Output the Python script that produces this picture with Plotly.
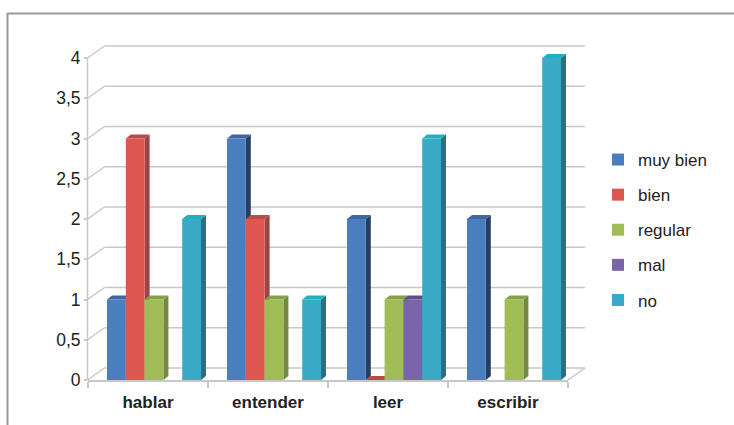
import plotly.graph_objects as go

# ---------------- data ----------------
categories = ["hablar", "entender", "leer", "escribir"]
series_names = ["muy bien", "bien", "regular", "mal", "no"]
muy_bien = [1, 3, 2, 2]
bien = [3, 2, 0, None]
regular = [1, 1, 1, 1]
mal = [None, None, 1, None]
no = [2, 1, 3, 4]
y_tickvals = [0, 0.5, 1, 1.5, 2, 2.5, 3, 3.5, 4]
y_ticktext = ["0", "0,5", "1", "1,5", "2", "2,5", "3", "3,5", "4"]

series_values = [muy_bien, bien, regular, mal, no]
front_colors = ["#4A7EBF", "#DD5650", "#A0BC57", "#7B65AA", "#3BAAC6"]
side_colors = ["#263F60", "#9B4545", "#748843", "#503F70", "#2F6F7D"]
top_colors = ["#3D66A3", "#B94B47", "#869F49", "#5F4E87", "#1FB1BD"]

# ---------------- geometry ----------------
W, H = 734, 425
ML, MR, MT, MB = 88, 166, 38, 45
PW = W - ML - MR
PH = H - MT - MB
PXU = 80.5                      # pixels per value unit
YMAX = PH / PXU
CATPX = PW / len(categories)    # pixels per category
WALL_DX, WALL_DY = 17, 12       # depth of the 3D floor / wall, pixels
BAR_DX, BAR_DY = 5, 4           # depth of each bar, pixels
bw = 18.8 / CATPX               # bar width in category units
shift = 6 / CATPX
n = len(series_names)
offsets = [-n / 2 * bw + j * bw + shift for j in range(n)]
dx = BAR_DX / CATPX
dy = BAR_DY / PXU


def px2paper_x(px):
    return (px - ML) / PW


def val2py(v):
    return MT + PH - v * PXU


def py2paper_y(py):
    return (MT + PH - py) / PH


fig = go.Figure()

for j, name in enumerate(series_names):
    fig.add_trace(go.Bar(
        x=categories, y=series_values[j], name=name,
        offset=offsets[j], width=bw,
        marker=dict(color=front_colors[j], line=dict(width=0)),
        legendgroup=name, hoverinfo="x+y+name",
    ))

shapes = []
grid_color = "#C8C8C8"
x_front = ML - 0.5
x_back = x_front + WALL_DX
x_right = ML + PW
# back wall gridlines + diagonal connectors on the left wall
for v in y_tickvals:
    yf = val2py(v)
    yb = yf - WALL_DY
    shapes.append(dict(type="line", xref="paper", yref="paper", layer="below",
                       x0=px2paper_x(x_front), y0=py2paper_y(yf),
                       x1=px2paper_x(x_back), y1=py2paper_y(yb),
                       line=dict(color=grid_color, width=1.5)))
    shapes.append(dict(type="line", xref="paper", yref="paper", layer="below",
                       x0=px2paper_x(x_back), y0=py2paper_y(yb),
                       x1=px2paper_x(x_right + WALL_DX), y1=py2paper_y(yb),
                       line=dict(color=grid_color, width=1.5)))
# front vertical axis line
shapes.append(dict(type="line", xref="paper", yref="paper", layer="below",
                   x0=px2paper_x(x_front), y0=py2paper_y(val2py(0)),
                   x1=px2paper_x(x_front), y1=py2paper_y(val2py(y_tickvals[-1])),
                   line=dict(color=grid_color, width=1.5)))
# right floor diagonal
shapes.append(dict(type="line", xref="paper", yref="paper", layer="below",
                   x0=px2paper_x(x_right), y0=py2paper_y(val2py(0)),
                   x1=px2paper_x(x_right + WALL_DX), y1=py2paper_y(val2py(0) - WALL_DY),
                   line=dict(color=grid_color, width=1.5)))

# 3D faces of the bars (side + top), derived from the data
for i, cat in enumerate(categories):
    for j in range(n):
        v = series_values[j][i]
        if v is None:
            continue
        xl = i + offsets[j]
        xr = xl + bw
        if v > 0:
            shapes.append(dict(
                type="path", xref="x", yref="y", layer="between",
                path=f"M{xr},0 L{xr + dx},{dy} L{xr + dx},{v + dy} L{xr},{v} Z",
                fillcolor=side_colors[j], line=dict(width=0)))
        shapes.append(dict(
            type="path", xref="x", yref="y", layer="between",
            path=f"M{xl},{v} L{xl + dx},{v + dy} L{xr + dx},{v + dy} L{xr},{v} Z",
            fillcolor=top_colors[j], line=dict(width=0)))

# outer frame (top and left border)
shapes.append(dict(type="line", xref="paper", yref="paper", layer="above",
                   x0=px2paper_x(7), y0=py2paper_y(13.5), x1=px2paper_x(W + 2), y1=py2paper_y(13.5),
                   line=dict(color="#9A9A9A", width=2)))
shapes.append(dict(type="line", xref="paper", yref="paper", layer="above",
                   x0=px2paper_x(7.5), y0=py2paper_y(13), x1=px2paper_x(7.5), y1=py2paper_y(H + 2),
                   line=dict(color="#9A9A9A", width=2)))

fig.update_layout(
    width=W, height=H,
    margin=dict(l=ML, r=MR, t=MT, b=MB, pad=0),
    paper_bgcolor="white", plot_bgcolor="rgba(0,0,0,0)",
    barmode="overlay",
    font=dict(family="Liberation Sans, Arial, sans-serif", size=17, color="#222222"),
    shapes=shapes,
    showlegend=True,
    legend=dict(
        x=px2paper_x(598), y=py2paper_y(142), xanchor="left", yanchor="top",
        traceorder="grouped", tracegroupgap=10,
        font=dict(size=17, color="#222222"),
        bgcolor="rgba(0,0,0,0)",
    ),
    xaxis=dict(
        type="category", range=[-0.5, len(categories) - 0.5],
        showgrid=False, zeroline=False,
        showline=True, linecolor=grid_color, linewidth=1.5,
        ticks="outside", tickson="boundaries", ticklen=6, tickcolor=grid_color,
        tickwidth=1.5, ticklabelstandoff=6,
        tickfont=dict(size=17, color="#222222", family="Liberation Sans, Arial, sans-serif",
                      weight="bold"),
        fixedrange=True,
    ),
    yaxis=dict(
        range=[0, YMAX], showgrid=False, zeroline=False, showline=False,
        tickvals=y_tickvals, ticktext=y_ticktext,
        ticks="outside", ticklen=3, tickcolor=grid_color, tickwidth=1.5,
        tickfont=dict(size=17.5, color="#222222"),
        fixedrange=True,
    ),
)

fig.write_html("out.html", config={"displayModeBar": False},
               post_script="document.body.style.margin='0px';")
